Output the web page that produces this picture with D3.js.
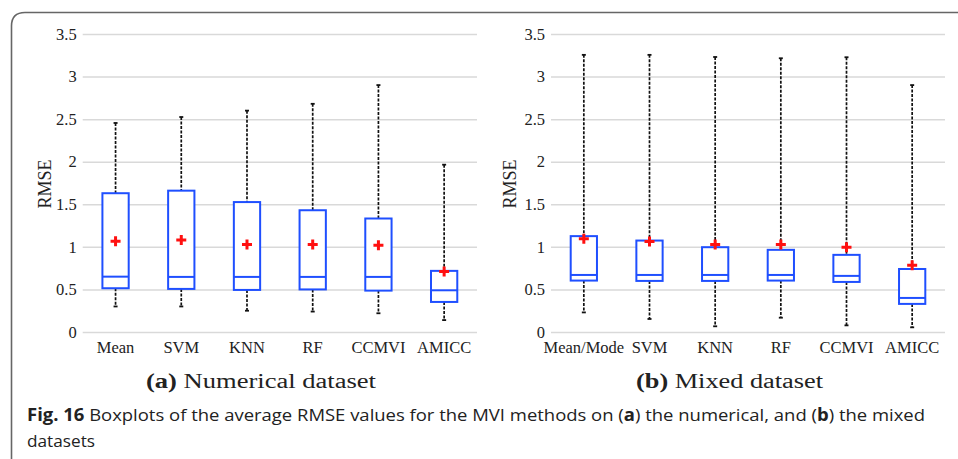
<!DOCTYPE html>
<html>
<head>
<meta charset="utf-8">
<script src="https://cdn.jsdelivr.net/npm/d3@7"></script>
<style>
  body { margin: 0; background: #fff; }
  svg { display: block; }
</style>
</head>
<body>
<svg id="chart" width="958" height="459"></svg>
<script>
// values
var numCats = ["Mean", "SVM", "KNN", "RF", "CCMVI", "AMICC"];
var numMin = [0.30, 0.30, 0.25, 0.24, 0.22, 0.14];
var numQ1 = [0.514, 0.506, 0.494, 0.50, 0.486, 0.353];
var numMed = [0.65, 0.647, 0.647, 0.647, 0.647, 0.49];
var numQ3 = [1.63, 1.66, 1.526, 1.43, 1.333, 0.718];
var numMax = [2.455, 2.525, 2.60, 2.68, 2.90, 1.965];
var numMean = [1.067, 1.08, 1.027, 1.027, 1.02, 0.71];

var mixCats = ["Mean/Mode", "SVM", "KNN", "RF", "CCMVI", "AMICC"];
var mixMin = [0.23, 0.153, 0.067, 0.168, 0.078, 0.055];
var mixQ1 = [0.604, 0.60, 0.60, 0.604, 0.588, 0.33];
var mixMed = [0.67, 0.67, 0.67, 0.67, 0.659, 0.40];
var mixQ3 = [1.126, 1.074, 0.996, 0.965, 0.906, 0.74];
var mixMax = [3.255, 3.255, 3.23, 3.215, 3.227, 2.90];
var mixMean = [1.094, 1.062, 1.027, 1.027, 0.996, 0.785];

var yTicks = [0, 0.5, 1, 1.5, 2, 2.5, 3, 3.5];

var svg = d3.select("#chart");

// frame round the figure
svg.append("path")
  .attr("d", "M11.5,459 L11.5,26 Q11.5,12.5 25,12.5 L958,12.5")
  .attr("fill", "none")
  .attr("stroke", "#666")
  .attr("stroke-width", 1.6);

function drawPanel(x0, x1, cats, mins, q1, med, q3, maxs, means, sub, subX0, subX1, labelX) {
  var rows = cats.map(function(c, i) {
    return {cat: c, min: mins[i], q1: q1[i], med: med[i], q3: q3[i], max: maxs[i], mean: means[i]};
  });

  var x = d3.scaleBand().domain(cats).range([x0, x1]);
  var y = d3.scaleLinear().domain([0, 3.5]).range([332, 34]);

  var g = svg.append("g");

  // gridlines + y tick labels
  g.append("g").call(d3.axisLeft(y).tickValues(yTicks).tickSize(-(x1 - x0)).tickFormat(d3.format("")))
    .attr("transform", "translate(" + x0 + ",0)")
    .call(function(a) {
      a.select(".domain").remove();
      a.selectAll(".tick line").attr("stroke", "#d9d9d9").attr("stroke-width", 1.5);
      a.selectAll(".tick text").attr("x", -6)
        .attr("font-family", "Liberation Serif").attr("font-size", 16.5).attr("fill", "#222");
    });

  // x labels
  g.append("g").attr("transform", "translate(0,332)")
    .call(d3.axisBottom(x).tickSize(0))
    .call(function(a) {
      a.select(".domain").remove();
      a.selectAll(".tick text").attr("y", 9).attr("dy", "0.71em")
        .attr("font-family", "Liberation Serif").attr("font-size", 16.5).attr("fill", "#222");
    });

  var bw = x.bandwidth() * 0.4;
  var boxes = g.selectAll(".box").data(rows).enter().append("g")
    .attr("transform", function(d) { return "translate(" + (x(d.cat) + x.bandwidth() / 2) + ",0)"; });

  // whiskers
  boxes.append("line").attr("x1", 0).attr("x2", 0)
    .attr("y1", function(d) { return y(d.max); }).attr("y2", function(d) { return y(d.q3); })
    .attr("stroke", "#111").attr("stroke-width", 1.7).attr("stroke-dasharray", "3,1.5");
  boxes.append("line").attr("x1", 0).attr("x2", 0)
    .attr("y1", function(d) { return y(d.q1); }).attr("y2", function(d) { return y(d.min); })
    .attr("stroke", "#111").attr("stroke-width", 1.7).attr("stroke-dasharray", "3,1.5");
  boxes.append("line").attr("x1", -2).attr("x2", 2)
    .attr("y1", function(d) { return y(d.max); }).attr("y2", function(d) { return y(d.max); })
    .attr("stroke", "#111").attr("stroke-width", 1.8);
  boxes.append("line").attr("x1", -2).attr("x2", 2)
    .attr("y1", function(d) { return y(d.min); }).attr("y2", function(d) { return y(d.min); })
    .attr("stroke", "#111").attr("stroke-width", 1.8);

  // box and median
  boxes.append("rect").attr("x", -bw / 2).attr("width", bw)
    .attr("y", function(d) { return y(d.q3); })
    .attr("height", function(d) { return y(d.q1) - y(d.q3); })
    .attr("fill", "#fff").attr("stroke", "#1f4fff").attr("stroke-width", 2);
  boxes.append("line").attr("x1", -bw / 2).attr("x2", bw / 2)
    .attr("y1", function(d) { return y(d.med); }).attr("y2", function(d) { return y(d.med); })
    .attr("stroke", "#1f4fff").attr("stroke-width", 2);

  // mean marker
  boxes.append("path")
    .attr("d", function(d) { var m = y(d.mean); return "M-5," + m + "H5M0," + (m - 5) + "V" + (m + 5); })
    .attr("stroke", "#ff1010").attr("stroke-width", 3);

  // y title
  g.append("text")
    .attr("transform", "translate(" + labelX + ",184) rotate(-90)")
    .attr("text-anchor", "middle").attr("dy", "0.35em")
    .attr("font-family", "Liberation Serif").attr("font-size", 18).attr("fill", "#222")
    .text("RMSE");

  // sub caption
  var st = g.append("text").attr("x", subX0).attr("y", 388)
    .attr("font-family", "Liberation Serif").attr("font-size", 20).attr("fill", "#222")
    .attr("textLength", subX1 - subX0).attr("lengthAdjust", "spacingAndGlyphs");
  st.append("tspan").attr("font-weight", "bold").text(sub[0]);
  st.append("tspan").text(" " + sub[1]);
}

drawPanel(82.7, 477, numCats, numMin, numQ1, numMed, numQ3, numMax, numMean,
  ["(a)", "Numerical dataset"], 146, 376, 45);
drawPanel(551, 945, mixCats, mixMin, mixQ1, mixMed, mixQ3, mixMax, mixMean,
  ["(b)", "Mixed dataset"], 636, 823, 510);

// figure caption
var cap = svg.append("text").attr("x", 27).attr("y", 421)
  .attr("font-family", "Open Sans").attr("font-size", 17).attr("fill", "#222")
  .attr("textLength", 898).attr("lengthAdjust", "spacingAndGlyphs");
cap.append("tspan").attr("font-weight", "bold").text("Fig. 16");
cap.append("tspan").text("  Boxplots of the average RMSE values for the MVI methods on (");
cap.append("tspan").attr("font-weight", "bold").text("a");
cap.append("tspan").text(") the numerical, and (");
cap.append("tspan").attr("font-weight", "bold").text("b");
cap.append("tspan").text(") the mixed");
svg.append("text").attr("x", 27).attr("y", 447)
  .attr("font-family", "Open Sans").attr("font-size", 17).attr("fill", "#222")
  .attr("textLength", 68).attr("lengthAdjust", "spacingAndGlyphs")
  .text("datasets");
</script>
</body>
</html>
